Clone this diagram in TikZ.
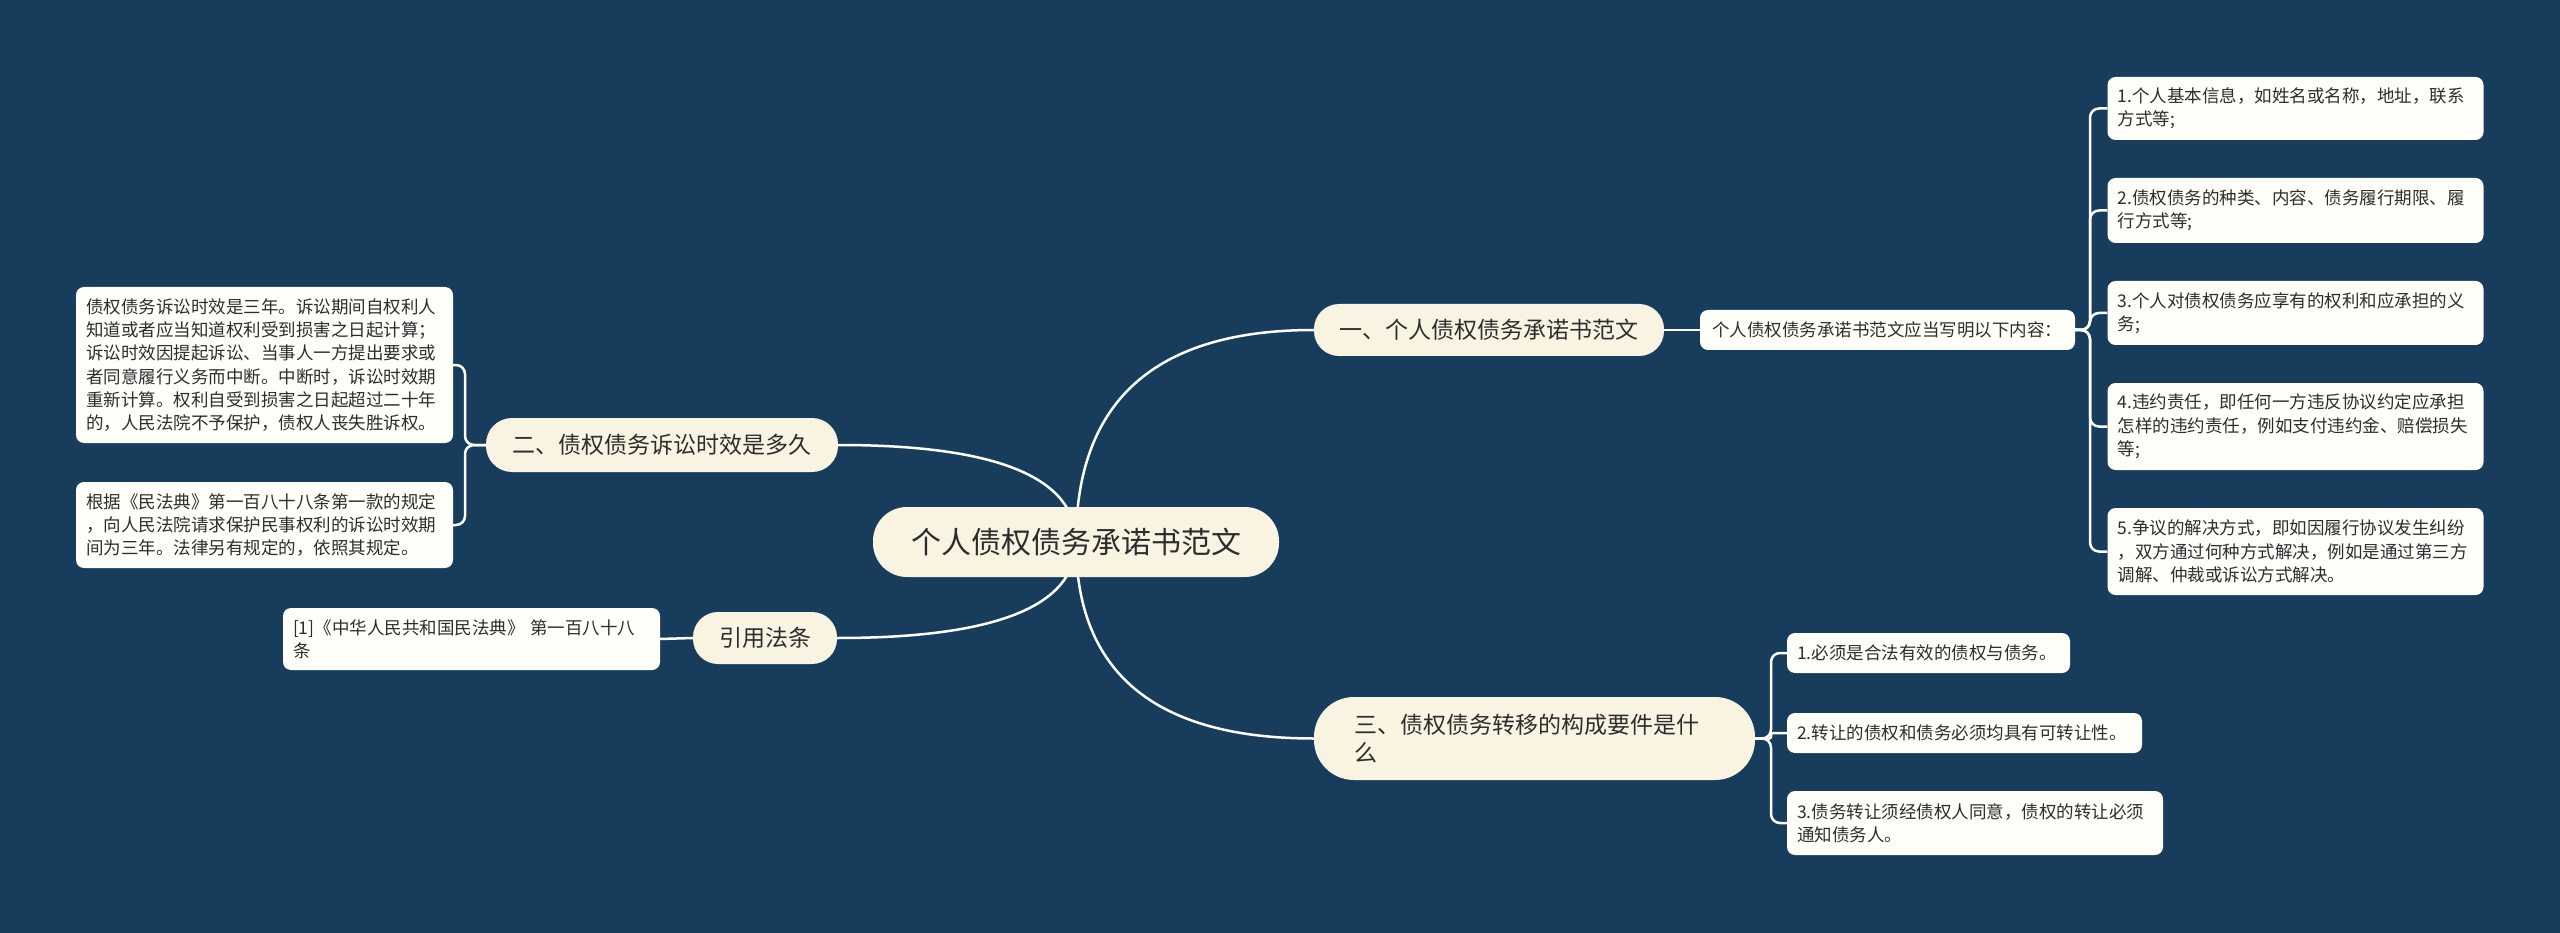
\documentclass[tikz,border=0pt]{standalone}
\usepackage{fontspec}
\setmainfont{Noto Sans CJK SC}
\usetikzlibrary{calc}
\definecolor{bg}{RGB}{24,61,92}
\definecolor{cream}{RGB}{249,244,226}
\definecolor{leaf}{RGB}{255,254,249}
\definecolor{ink}{RGB}{45,45,45}
\pgfdeclarelayer{bgl}
\pgfdeclarelayer{edges}
\pgfsetlayers{bgl,edges,main}
\begin{document}
\begin{tikzpicture}[x=1pt,y=-1pt,
  mainbox/.style={fill=cream, text=ink, inner sep=0pt, font=\fontsize{23}{28}\selectfont},
  leafbox/.style={fill=leaf, rounded corners=8pt, text=ink, inner xsep=10pt, inner ysep=0pt, align=left, font=\fontsize{17.5}{23.3}\selectfont},
  link/.style={draw=white, line width=2.5pt},
  bracket/.style={draw=white, line width=2.5pt, rounded corners=9pt}]
\begin{pgfonlayer}{bgl}
\fill[bg] (0,0) rectangle (2560,933);
\end{pgfonlayer}
\useasboundingbox (0,0) rectangle (2560,933);

% root
\node[mainbox, minimum width=406pt, minimum height=70pt, rounded corners=34pt, font=\fontsize{30}{36}\selectfont] (root) at (1076,542) {个人债权债务承诺书范文};

% branch 1
\node[mainbox, minimum width=350pt, minimum height=52pt, rounded corners=25pt] (n1) at (1489,330) {一、个人债权债务承诺书范文};
\node[leafbox, inner xsep=12pt, text width=351pt, minimum height=40pt] (n1a) at (1887.5,330) {个人债权债务承诺书范文应当写明以下内容：};
\node[leafbox, text width=356pt, minimum height=63pt] (r1) at (2295.5,108.5) {1.个人基本信息，如姓名或名称，地址，联系\\方式等;};
\node[leafbox, text width=356pt, minimum height=65pt] (r2) at (2295.5,210.5) {2.债权债务的种类、内容、债务履行期限、履\\行方式等;};
\node[leafbox, text width=356pt, minimum height=64pt] (r3) at (2295.5,313) {3.个人对债权债务应享有的权利和应承担的义\\务;};
\node[leafbox, text width=356pt, minimum height=87pt] (r4) at (2295.5,426.5) {4.违约责任，即任何一方违反协议约定应承担\\怎样的违约责任，例如支付违约金、赔偿损失\\等;};
\node[leafbox, text width=356pt, minimum height=87pt] (r5) at (2295.5,551.5) {5.争议的解决方式，即如因履行协议发生纠纷\\，双方通过何种方式解决，例如是通过第三方\\调解、仲裁或诉讼方式解决。};

% branch 2
\node[mainbox, minimum width=352pt, minimum height=54pt, rounded corners=26pt] (n2) at (662,445) {二、债权债务诉讼时效是多久};
\node[leafbox, text width=357pt, minimum height=156pt] (l1) at (264.5,365) {债权债务诉讼时效是三年。诉讼期间自权利人\\知道或者应当知道权利受到损害之日起计算；\\诉讼时效因提起诉讼、当事人一方提出要求或\\者同意履行义务而中断。中断时，诉讼时效期\\重新计算。权利自受到损害之日起超过二十年\\的，人民法院不予保护，债权人丧失胜诉权。};
\node[leafbox, text width=357pt, minimum height=86pt] (l2) at (264.5,525) {根据《民法典》第一百八十八条第一款的规定\\，向人民法院请求保护民事权利的诉讼时效期\\间为三年。法律另有规定的，依照其规定。};

% branch: citation
\node[mainbox, minimum width=144pt, minimum height=52pt, rounded corners=25pt] (n3) at (765,638) {引用法条};
\node[leafbox, text width=357pt, minimum height=62pt] (c1) at (471.5,639) {[1]《中华人民共和国民法典》 第一百八十八\\条};

% branch 3
\node[mainbox, minimum height=83pt, rounded corners=40pt, text width=360pt, inner xsep=40.5pt, align=left] (n4) at (1534.5,738.5) {三、债权债务转移的构成要件是什\\么};
\node[leafbox, text width=263pt, minimum height=40pt] (t1) at (1928.5,653) {1.必须是合法有效的债权与债务。};
\node[leafbox, text width=335pt, minimum height=40pt] (t2) at (1964.5,733) {2.转让的债权和债务必须均具有可转让性。};
\node[leafbox, text width=356pt, minimum height=64pt] (t3) at (1975,823) {3.债务转让须经债权人同意，债权的转让必须\\通知债务人。};

\coordinate (bxR) at (2090,0);
\coordinate (bxL) at (465,0);
\coordinate (bxT) at (1771,0);

\begin{pgfonlayer}{edges}
\foreach \n/\a in {n1/west,n2/east,n3/east,n4/west}
  \draw[link] (root.center) .. controls ($(root.center)!2/3!(root.center |- \n.\a)$) and ($(\n.\a)!2/3!(root.center |- \n.\a)$) .. (\n.\a);
\draw[link] (n1.east) -- (n1a.west);
\draw[link] (c1.east) -- (n3.west);
\foreach \r in {r1,r2,r3,r4,r5}
  \draw[bracket] (n1a.east) -- (bxR |- n1a.east) -- (bxR |- \r.west) -- (\r.west);
\foreach \l in {l1,l2}
  \draw[bracket] (n2.west) -- (bxL |- n2.west) -- (bxL |- \l.east) -- (\l.east);
\foreach \t in {t1,t3}
  \draw[bracket] (n4.east) -- (bxT |- n4.east) -- (bxT |- \t.west) -- (\t.west);
\draw[bracket, rounded corners=2pt] (n4.east) -- (bxT |- n4.east) -- (bxT |- t2.west) -- (t2.west);
\end{pgfonlayer}
\end{tikzpicture}
\end{document}
